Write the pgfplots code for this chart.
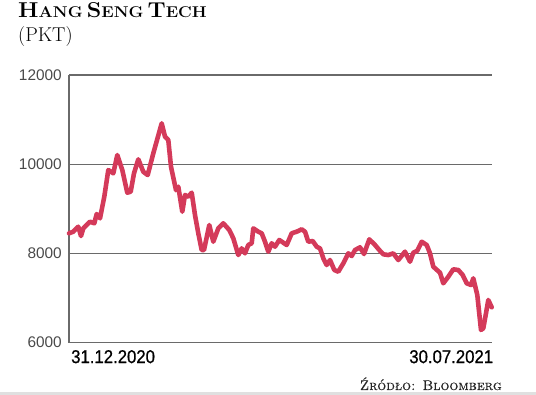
\documentclass[border=0pt]{standalone}
\usepackage{pgfplots}
\pgfplotsset{compat=1.18}
\usepackage{fontspec}
\usepackage{graphicx}
\newfontfamily\lib{Liberation Sans}
\newfontfamily\libmed[FakeBold=0.7]{Liberation Sans}
\newfontfamily\lmsc[FakeBold=0.5]{Latin Modern Roman Caps}
\definecolor{linered}{HTML}{D43A5A}
\definecolor{gridgray}{HTML}{6A6A6A}
\definecolor{ticktext}{HTML}{4A4A4A}
\newcommand\BigC[1]{{\fontsize{21.5}{22}\selectfont #1}}
\newcommand\SmC[1]{{\fontsize{15.6}{16}\selectfont #1}}
\begin{document}
\begin{tikzpicture}[x=1pt,y=1pt]
\useasboundingbox (0,0) rectangle (536,395);
\fill[black!12] (0,0) rectangle (536,2.5);
\begin{axis}[
  at={(69pt,52.3pt)}, anchor=south west,
  scale only axis, width=423pt, height=267.7pt,
  xmin=0, xmax=423, ymin=6000, ymax=12000,
  axis x line*=bottom, axis y line*=left,
  axis line style={gridgray, line width=1.2pt, -},
  xtick=\empty, ytick={6000,8000,10000,12000},
  yticklabels={6000,8000,10000,12000},
  scaled y ticks=false,
  ymajorgrids, grid style={gridgray, line width=1.2pt},
  major tick length=0pt,
  yticklabel style={font=\lib\fontsize{15.4}{16}\selectfont, text=ticktext, inner sep=0pt, xshift=-7pt},
  clip=false,
]
\addplot[linered, line width=4.6pt, line join=round, line cap=round] coordinates {
(0,8452) (4.3,8488) (9.3,8600) (12,8391) (14.3,8563) (21,8712) (25.3,8676) (27.7,8884)
(31,8788) (35.3,9272) (39.3,9870) (44.3,9796) (48.3,10206) (53.3,9870) (58.3,9362)
(61.7,9385) (65,9796) (69.3,10110) (74.3,9832) (78.7,9758) (84.3,10244) (92.7,10917)
(96,10617) (99.3,10543) (102,9944) (107,9420) (109.3,9496) (113.3,8936) (116,9310)
(119.3,9272) (122.7,9362) (126,8862) (129.3,8452) (132.7,8077) (135,8077) (140.3,8637)
(144.3,8263) (149.3,8563) (154.3,8676) (160.3,8526) (164.3,8340) (169.3,7965) (172.7,8115)
(176,8003) (179.3,8190) (182.7,8228) (184.3,8563) (189.3,8488) (192.7,8452) (196,8263)
(199.3,8040) (202.7,8228) (206,8152) (210.3,8302) (217.7,8190) (222.7,8452) (227.7,8488)
(232.7,8541) (236,8488) (239.3,8263) (243.7,8279) (247.7,8152) (251,8115) (254.3,7891)
(257.7,7741) (261,7853) (265.3,7629) (269.3,7591) (274.3,7779) (279.3,8003) (282.7,7943)
(286,8077) (291,8138) (295,7988) (300.3,8317) (306,8190) (310.3,8077) (314.3,7981)
(319.3,7965) (324.3,8003) (329.3,7853) (336,8040) (341,7815) (344.3,8017) (348.3,8062)
(352.7,8263) (357.7,8190) (361,8003) (364.3,7703) (371,7569) (374.3,7331) (379.3,7479)
(384.3,7645) (389.3,7629) (393.7,7517) (397.7,7331) (402,7293) (404.3,7443) (408.3,7069)
(412,6285) (414.3,6323) (417,6659) (419.3,6957) (422.7,6793)
};
\end{axis}
\node[anchor=base west, inner sep=0pt] at (18,377.7)
  {\scalebox{1.08}[1]{\bfseries\BigC{H}\SmC{ANG} \BigC{S}\SmC{ENG} \BigC{T}\SmC{ECH}}};
\node[anchor=base west, inner sep=0pt] at (18,353.3)
  {\fontsize{20}{22}\selectfont (PKT)};
\node[anchor=west, inner sep=0pt] at (71,38.3)
  {\scalebox{0.9}[1]{\libmed\fontsize{18.6}{20}\selectfont 31.12.2020}};
\node[anchor=east, inner sep=0pt] at (493.3,38.3)
  {\scalebox{0.9}[1]{\libmed\fontsize{18.6}{20}\selectfont 30.07.2021}};
\node[anchor=base east, inner sep=0pt, text=black!85] at (502,5)
  {\lmsc\fontsize{14}{16}\selectfont Źródło: Bloomberg};
\end{tikzpicture}
\end{document}
